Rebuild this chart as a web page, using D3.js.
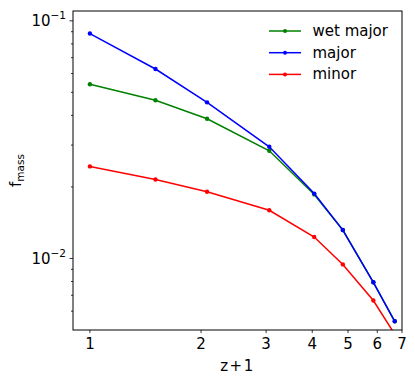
<!DOCTYPE html>
<html><head><meta charset="utf-8">
<script src="https://cdn.jsdelivr.net/npm/d3@7"></script>
<style>body{margin:0;background:#fff}svg{display:block}text{font-family:"DejaVu Sans",sans-serif;fill:#000}</style>
</head><body><svg id="c" width="415" height="380"></svg>
<script>
const zPlusOne = [1, 1.505, 2.076, 3.06, 4.05, 4.84, 5.855, 6.69];
const wetMajor = [0.0541, 0.0463, 0.0387, 0.0284, 0.0186, 0.01317, 0.00794, 0.00544];
const major    = [0.0884, 0.0627, 0.0454, 0.0295, 0.01875, 0.01317, 0.00794, 0.00544];
const minor    = [0.0244, 0.0215, 0.0191, 0.01595, 0.01231, 0.00944, 0.00665, 0.0048];
const seriesNames = ["wet major", "major", "minor"];
const seriesColors = ["#008000", "#0000ff", "#ff0000"];
const xTickValues = [1, 2, 3, 4, 5, 6, 7];
const yMajorTicks = [0.01, 0.1];
const yMajorExp = ["\u22122", "\u22121"];

const svg = d3.select("#c");
const L = 73, R = 402, T = 11, B = 330;
const x = d3.scaleLog().domain([0.9, 7.0]).range([L, R]);
const y = d3.scaleLog().domain([0.005, 0.11]).range([B, T]);

svg.append("defs").append("clipPath").attr("id", "clip")
  .append("rect").attr("x", L).attr("y", T).attr("width", R - L).attr("height", B - T);

// y minor ticks
const yMinor = [];
for (let e = -3; e <= -1; e++) for (let m = 2; m <= 9; m++) {
  const v = m * Math.pow(10, e);
  if (v > 0.005 && v < 0.11) yMinor.push(v);
}
const g = svg.append("g");
g.selectAll(".ymin").data(yMinor).join("line")
  .attr("x1", L - 2).attr("x2", L).attr("y1", d => y(d)).attr("y2", d => y(d))
  .attr("stroke", "#000").attr("stroke-width", 0.8);
g.selectAll(".ymaj").data(yMajorTicks).join("line")
  .attr("x1", L - 3.5).attr("x2", L).attr("y1", d => y(d)).attr("y2", d => y(d))
  .attr("stroke", "#000").attr("stroke-width", 0.8);
yMajorTicks.forEach((v, i) => {
  const t = g.append("text").attr("x", L - 7).attr("y", y(v) + 5.5).attr("text-anchor", "end")
    .style("font-size", "15px");
  t.append("tspan").text("10");
  t.append("tspan").attr("dy", -7).style("font-size", "10.5px").text(yMajorExp[i]);
});
// x ticks
g.selectAll(".xt").data(xTickValues).join("line")
  .attr("x1", d => x(d)).attr("x2", d => x(d)).attr("y1", B).attr("y2", B + 3)
  .attr("stroke", "#000").attr("stroke-width", 0.8);
g.selectAll(".xl").data(xTickValues).join("text")
  .attr("x", d => x(d)).attr("y", B + 19).attr("text-anchor", "middle")
  .style("font-size", "15px").text(d => d);

// lines
const seriesData = [wetMajor, major, minor];
const line = d3.line().x(d => x(d[0])).y(d => y(d[1]));
const pl = svg.append("g").attr("clip-path", "url(#clip)");
seriesData.forEach((vals, i) => {
  const pts = zPlusOne.map((xv, j) => [xv, vals[j]]);
  pl.append("path").attr("d", line(pts)).attr("fill", "none")
    .attr("stroke", seriesColors[i]).attr("stroke-width", 1.5);
  pl.selectAll(null).data(pts).join("circle")
    .attr("cx", d => x(d[0])).attr("cy", d => y(d[1])).attr("r", 2.2)
    .attr("fill", seriesColors[i]);
});

// frame
svg.append("rect").attr("x", L).attr("y", T).attr("width", R - L).attr("height", B - T)
  .attr("fill", "none").attr("stroke", "#000").attr("stroke-width", 1);

// legend
seriesNames.forEach((n, i) => {
  const yy = 31 + i * 21.7;
  svg.append("line").attr("x1", 269).attr("x2", 301).attr("y1", yy).attr("y2", yy)
    .attr("stroke", seriesColors[i]).attr("stroke-width", 1.5);
  svg.append("circle").attr("cx", 285).attr("cy", yy).attr("r", 2).attr("fill", seriesColors[i]);
  svg.append("text").attr("x", 312.5).attr("y", yy + 5).style("font-size", "15px").text(n);
});

// axis labels
svg.append("text").attr("x", (L + R) / 2).attr("y", 370.5).attr("text-anchor", "middle")
  .style("font-size", "15px").style("letter-spacing", "1.5px").text("z+1");
const yl = svg.append("text").attr("transform", `translate(21,${(T + B) / 2}) rotate(-90)`)
  .attr("text-anchor", "middle").style("font-size", "15px");
yl.append("tspan").text("f");
yl.append("tspan").attr("dy", 3).style("font-size", "10.5px").text("mass");
</script></body></html>
